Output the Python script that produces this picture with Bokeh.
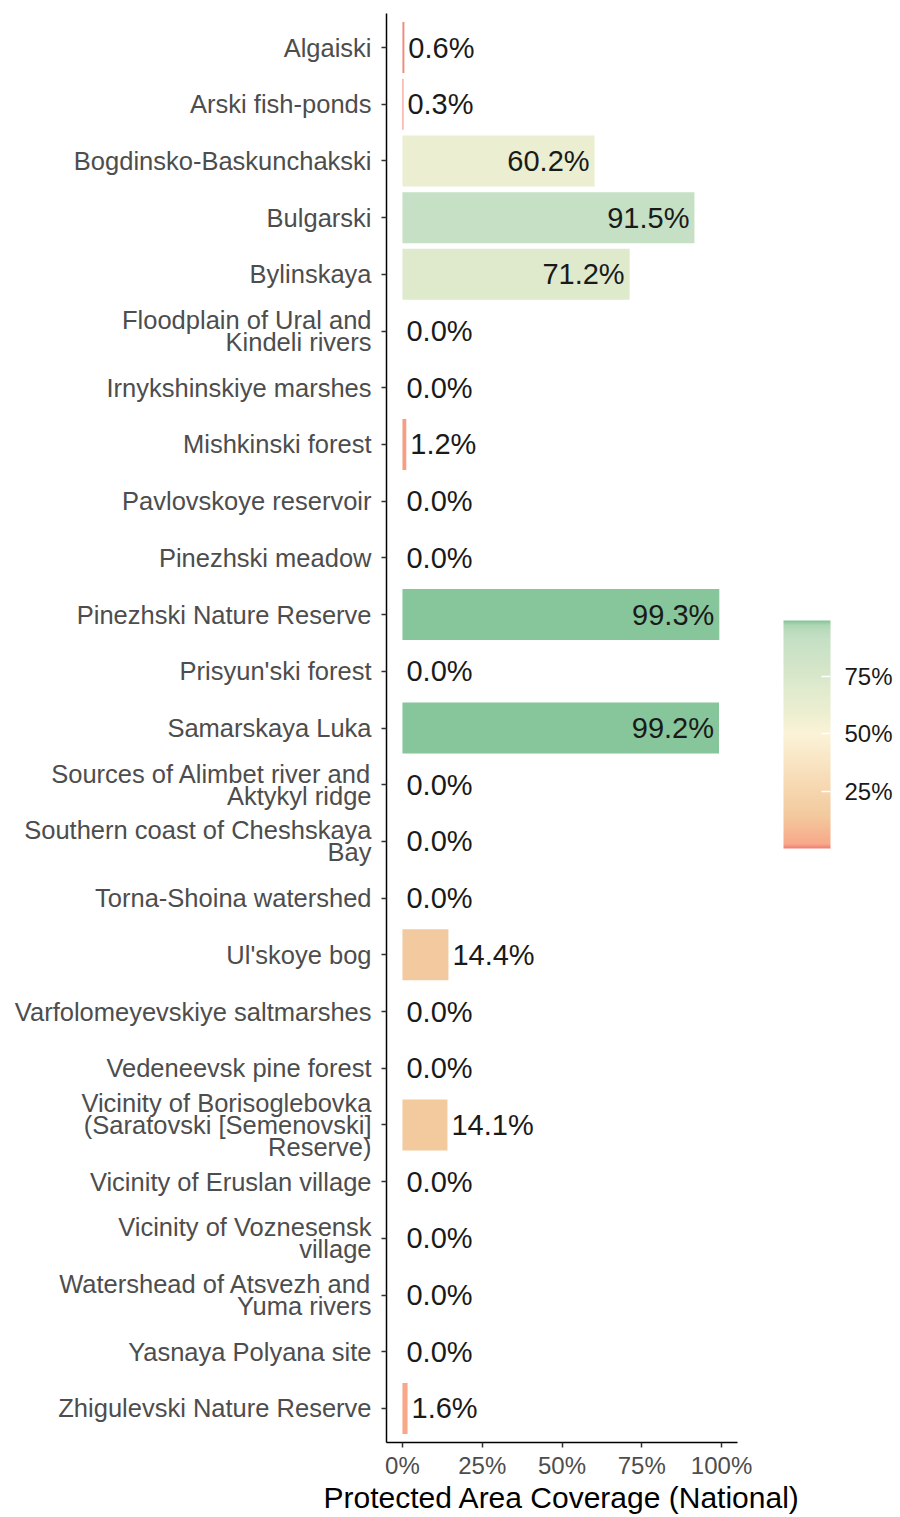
import numpy as np
from bokeh.plotting import figure
from bokeh.models import (ColumnDataSource, FactorRange, Range1d, LinearColorMapper,
                          ColorBar, FixedTicker, PrintfTickFormatter)
from bokeh.transform import transform
from bokeh.embed import file_html
from bokeh.resources import INLINE
from bokeh.core.properties import value

# ---- data ----
sites = [
    "Algaiski",
    "Arski fish-ponds",
    "Bogdinsko-Baskunchakski",
    "Bulgarski",
    "Bylinskaya",
    "Floodplain of Ural and\nKindeli rivers",
    "Irnykshinskiye marshes",
    "Mishkinski forest",
    "Pavlovskoye reservoir",
    "Pinezhski meadow",
    "Pinezhski Nature Reserve",
    "Prisyun'ski forest",
    "Samarskaya Luka",
    "Sources of Alimbet river and\nAktykyl ridge",
    "Southern coast of Cheshskaya\nBay",
    "Torna-Shoina watershed",
    "Ul'skoye bog",
    "Varfolomeyevskiye saltmarshes",
    "Vedeneevsk pine forest",
    "Vicinity of Borisoglebovka\n(Saratovski [Semenovski]\nReserve)",
    "Vicinity of Eruslan village",
    "Vicinity of Voznesensk\nvillage",
    "Watershead of Atsvezh and\nYuma rivers",
    "Yasnaya Polyana site",
    "Zhigulevski Nature Reserve",
]
coverage = [0.6, 0.3, 60.2, 91.5, 71.2, 0.0, 0.0, 1.2, 0.0, 0.0, 99.3, 0.0, 99.2,
            0.0, 0.0, 0.0, 14.4, 0.0, 0.0, 14.1, 0.0, 0.0, 0.0, 0.0, 1.6]
x_ticks = [0, 25, 50, 75, 100]
legend_ticks = [25, 50, 75]
x_title = "Protected Area Coverage (National)"

# ---- colour scale (style) ----
stop_values = [0.3, 0.8, 1.6, 14.0, 25.0, 50.0, 60.0, 71.0, 75.0, 91.5, 96.0, 98.0, 99.3]
stop_colors = ["#F0857A", "#F3957F", "#F8A88A", "#F3C99E", "#F6D6AE", "#FBF3D8", "#EBEED0",
               "#DFEACD", "#D8E7CA", "#C5E0C4", "#B7DABB", "#A6D3AE", "#87C59A"]

low, high = min(coverage), max(coverage)


def hex2rgb(h):
    return [int(h[i:i + 2], 16) for i in (1, 3, 5)]


rgb = np.array([hex2rgb(c) for c in stop_colors], dtype=float)
grid = np.linspace(low, high, 256)
palette = []
for g in grid:
    r = np.interp(g, stop_values, rgb[:, 0])
    gg = np.interp(g, stop_values, rgb[:, 1])
    b = np.interp(g, stop_values, rgb[:, 2])
    palette.append("#%02x%02x%02x" % (int(round(r)), int(round(gg)), int(round(b))))

mapper = LinearColorMapper(palette=palette, low=low, high=high)

labels = ["%.1f%%" % v for v in coverage]
inside = [v > 50 for v in coverage]

src = ColumnDataSource(dict(site=sites, cov=coverage, lab=labels))
src_in = ColumnDataSource(dict(site=[s for s, i in zip(sites, inside) if i],
                               cov=[v for v, i in zip(coverage, inside) if i],
                               lab=[l for l, i in zip(labels, inside) if i]))
src_out = ColumnDataSource(dict(site=[s for s, i in zip(sites, inside) if not i],
                                cov=[v for v, i in zip(coverage, inside) if not i],
                                lab=[l for l, i in zip(labels, inside) if not i]))

FONT = "Liberation Sans"

p = figure(width=900, height=1517,
           y_range=FactorRange(factors=list(reversed(sites)), range_padding=0.1,
                               range_padding_units="absolute"),
           x_range=Range1d(-5, 105),
           output_backend="svg", toolbar_location=None,
           min_border_left=386, min_border_top=13, min_border_bottom=75,
           min_border_right=163)

p.hbar(y="site", left=0, right="cov", height=0.9, source=src,
       fill_color=transform("cov", mapper), line_color=None)

p.text(x="cov", y="site", text="lab", source=src_in, text_align="right",
       text_baseline="middle", x_offset=-5, text_font=value(FONT),
       text_font_size="29px", text_color="#1A1A1A")
p.text(x="cov", y="site", text="lab", source=src_out, text_align="left",
       text_baseline="middle", x_offset=4, text_font=value(FONT),
       text_font_size="29px", text_color="#1A1A1A")

p.xgrid.visible = False
p.ygrid.visible = False
p.outline_line_color = None
p.background_fill_color = "white"

p.xaxis.ticker = FixedTicker(ticks=x_ticks)
p.xaxis.formatter = PrintfTickFormatter(format="%d%%")
p.xaxis.axis_label = x_title

for ax in (p.xaxis, p.yaxis):
    ax.axis_line_color = "black"
    ax.axis_line_width = 1.5
    ax.major_tick_line_color = "#333333"
    ax.major_tick_line_width = 1.5
    ax.major_tick_in = 0
    ax.major_tick_out = 5
    ax.minor_tick_line_color = None
    ax.major_label_text_font = FONT
    ax.major_label_text_color = "#4D4D4D"

p.xaxis.major_label_text_font_size = "24px"
p.xaxis.major_label_standoff = 4
p.xaxis.axis_label_text_font = FONT
p.xaxis.axis_label_text_font_size = "30px"
p.xaxis.axis_label_text_font_style = "normal"
p.xaxis.axis_label_text_color = "black"
p.xaxis.axis_label_standoff = -1

p.yaxis.major_label_text_font_size = "25.5px"
p.yaxis.major_label_standoff = 10
p.yaxis.major_label_text_line_height = 0.78

cb = ColorBar(color_mapper=mapper, ticker=FixedTicker(ticks=legend_ticks),
              formatter=PrintfTickFormatter(format="%d%%"),
              width=47, height=228, location=(46, 594),
              margin=0, padding=0, label_standoff=14,
              major_label_text_font=FONT, major_label_text_font_size="24px",
              major_label_text_color="#1A1A1A",
              major_tick_line_color="white", major_tick_line_width=1.5,
              major_tick_in=9, major_tick_out=0,
              minor_tick_line_color=None, bar_line_color=None,
              background_fill_color=None, border_line_color=None)
p.add_layout(cb, "right")

open("out.html", "w").write(file_html(p, INLINE))
